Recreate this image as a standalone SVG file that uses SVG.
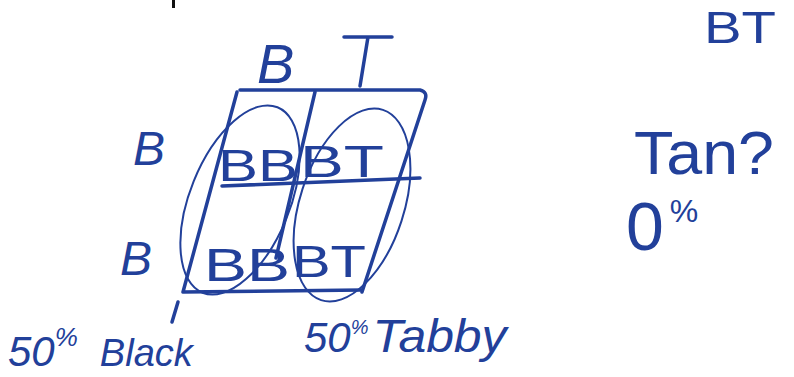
<svg xmlns="http://www.w3.org/2000/svg" width="794" height="377" viewBox="0 0 794 377">
<style>
.ln{fill:none;stroke:#22409a;stroke-width:3.5;stroke-linecap:round;stroke-linejoin:round}
.el{fill:none;stroke:#22409a;stroke-width:2}
.t{font-family:"Liberation Sans","DejaVu Sans",sans-serif;fill:#22409a}
</style>
<rect width="794" height="377" fill="#fff"/>
<rect x="172" y="0" width="3" height="8" fill="#111"/>
<g id="grid">
<path class="ln" d="M240,90 L420,90 Q428,92 425,100 L362,292"/>
<path class="ln" d="M237,92 L183,292 L362,290"/>
<path class="ln" d="M315,92 L276,258"/>
<path class="ln" d="M222,186 L420,178"/>
<path class="ln" d="M344,37 L392,37 M368,37 L360,86"/>
</g>
<g id="ellipses">
<ellipse class="el" cx="240" cy="200" rx="50" ry="100" transform="rotate(22 240 200)"/>
<ellipse class="el" cx="352" cy="205" rx="52" ry="100" transform="rotate(18 352 205)"/>
</g>
<g id="labels">
<text class="t" x="257" y="83" font-size="56" font-style="italic">B</text>
<text class="t" x="133" y="165" font-size="48" font-style="italic">B</text>
<text class="t" x="120" y="275" font-size="48" font-style="italic">B</text>
<text class="t" x="218" y="181" font-size="44" textLength="80" lengthAdjust="spacingAndGlyphs">BB</text>
<text class="t" x="300" y="177" font-size="44" textLength="84" lengthAdjust="spacingAndGlyphs">BT</text>
<text class="t" x="204" y="281" font-size="46" textLength="86" lengthAdjust="spacingAndGlyphs">BB</text>
<text class="t" x="292" y="277" font-size="44" textLength="74" lengthAdjust="spacingAndGlyphs">BT</text>
<text class="t" x="704" y="43" font-size="44" textLength="72" lengthAdjust="spacingAndGlyphs">BT</text>
<text class="t" x="634" y="174" font-size="62" textLength="140" lengthAdjust="spacingAndGlyphs">Tan?</text>
<text class="t" x="626" y="250" font-size="68">0<tspan font-size="32" dy="-28" dx="6">%</tspan></text>
<path class="ln" d="M178,302 L172,322" stroke-width="2.5"/>
<text class="t" x="8" y="366" font-size="42" font-style="italic">50<tspan font-size="26" dy="-20">%</tspan><tspan font-size="38" dy="20" dx="22">Black</tspan></text>
<text class="t" x="304" y="352" font-size="42" font-style="italic">50<tspan font-size="20" dy="-18">%</tspan><tspan font-size="46" dy="18" dx="4" textLength="134" lengthAdjust="spacingAndGlyphs">Tabby</tspan></text>
</g>
</svg>
